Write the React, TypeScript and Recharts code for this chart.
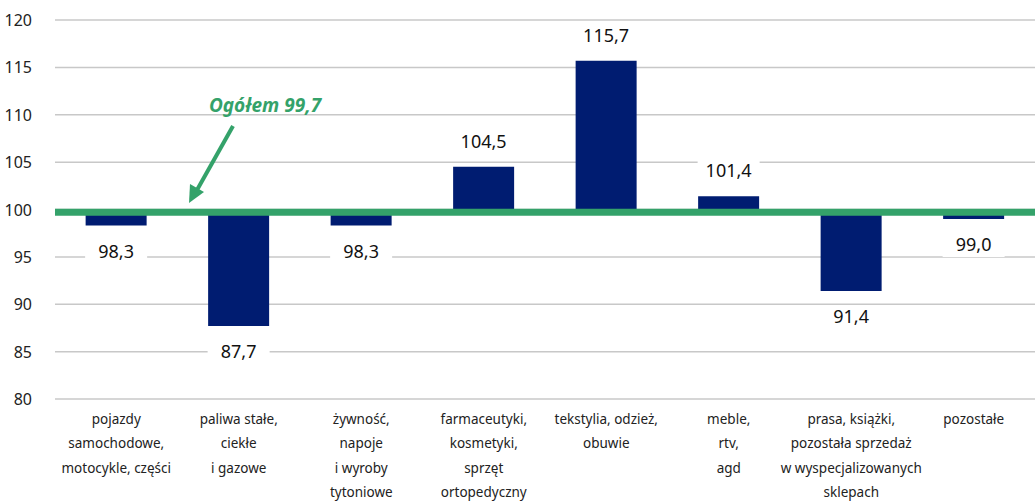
import React from 'react';
import { BarChart, Bar, XAxis, YAxis, CartesianGrid, ReferenceLine, LabelList } from 'recharts';

const categories: string[][] = [
  ['pojazdy', 'samochodowe,', 'motocykle, części'],
  ['paliwa stałe,', 'ciekłe', 'i gazowe'],
  ['żywność,', 'napoje', 'i wyroby', 'tytoniowe'],
  ['farmaceutyki,', 'kosmetyki,', 'sprzęt', 'ortopedyczny'],
  ['tekstylia, odzież,', 'obuwie'],
  ['meble,', 'rtv,', 'agd'],
  ['prasa, książki,', 'pozostała sprzedaż', 'w wyspecjalizowanych', 'sklepach'],
  ['pozostałe'],
];
const values = [98.3, 87.7, 98.3, 104.5, 115.7, 101.4, 91.4, 99.0];
const base = 100;
const overall = 99.7;
const yTicks = [80, 85, 90, 95, 100, 105, 110, 115, 120];

const font = '"Noto Sans", sans-serif';
const barColor = '#001c71';
const green = '#34a26a';

const data = categories.map((lines, i) => ({
  name: lines.join(' '),
  value: values[i],
  range: [Math.min(base, values[i]), Math.max(base, values[i])],
}));

const fmt = (v: number) => v.toFixed(1).replace('.', ',');

const CategoryTick = (props: any) => {
  const { x, y, index } = props;
  const lines = categories[index] || [];
  return (
    <g>
      {lines.map((l, i) => (
        <text key={i} x={x} y={y + 17 + i * 24.3} textAnchor="middle" fontSize={13.5} fill="#222" fontFamily={font}>
          {l}
        </text>
      ))}
    </g>
  );
};

const ValueTick = (props: any) => {
  const { x, y, payload } = props;
  return (
    <text x={x - 15} y={y + 6} textAnchor="end" fontSize={16} fill="#222" fontFamily={font}>
      {payload.value}
    </text>
  );
};

const ValueLabel = (props: any) => {
  const { x, y, width, height, value } = props;
  const cx = x + width / 2;
  const cy = value >= base ? y - 25 : y + height + 26;
  const txt = fmt(value);
  return (
    <g>
      <rect x={cx - 31} y={cy - 12} width={62} height={24} fill="#fff" />
      <text x={cx} y={cy + 6} textAnchor="middle" fontSize={18} fill="#111" fontFamily={font}>
        {txt}
      </text>
    </g>
  );
};

export default function App() {
  return (
    <div style={{ position: 'relative', width: 1035, height: 504, background: '#fff' }}>
      <style>{`body{margin:0}`}</style>
      <BarChart width={1035} height={504} data={data} margin={{ top: 20, right: 0, left: 0, bottom: 0 }} barCategoryGap="25%">
        <CartesianGrid vertical={false} stroke="#c8c8c8" strokeWidth={1.5} />
        <XAxis dataKey="name" axisLine={false} tickLine={false} height={105} interval={0} tick={<CategoryTick />} />
        <YAxis
          domain={[80, 120]}
          ticks={yTicks}
          axisLine={false}
          tickLine={false}
          width={55}
          tick={<ValueTick />}
          interval={0}
        />
        <Bar dataKey="range" fill={barColor} isAnimationActive={false}>
          <LabelList dataKey="value" content={<ValueLabel />} />
        </Bar>
        <ReferenceLine y={overall} stroke={green} strokeWidth={7} />
      </BarChart>
      <svg width={1035} height={504} style={{ position: 'absolute', left: 0, top: 0, pointerEvents: 'none' }}>
        <text x={265} y={112} textAnchor="middle" fontSize={19} fontWeight={700} fontStyle="italic" fill={green} fontFamily={font}>
          Ogółem 99,7
        </text>
        <line x1={233} y1={126} x2={197} y2={190} stroke={green} strokeWidth={4} />
        <polygon points="189,203 190,184 204,192" fill={green} />
      </svg>
    </div>
  );
}
